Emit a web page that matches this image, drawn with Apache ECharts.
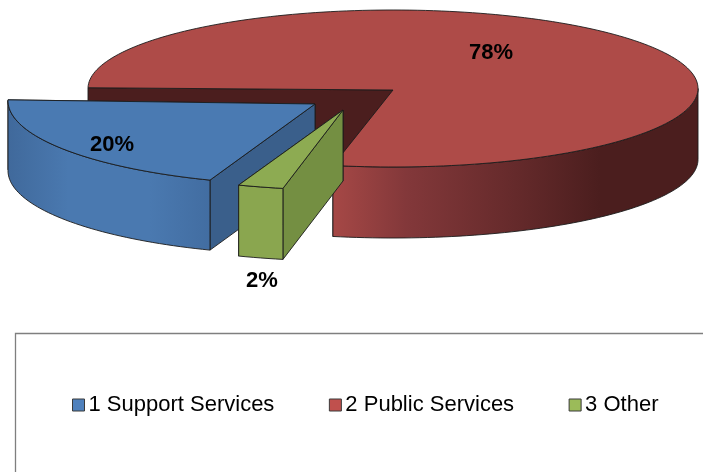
<!DOCTYPE html>
<html><head><meta charset="utf-8">
<script src="https://cdn.jsdelivr.net/npm/echarts@6/dist/echarts.min.js"></script>
<style>html,body{margin:0;padding:0;background:#fff}#c{width:703px;height:472px}</style>
</head><body><div id="c"></div>
<script>
// Data
const categories = ['1 Support Services', '2 Public Services', '3 Other'];
const shares = [19.6, 78.0, 2.4];
const firstSliceAngle = 200;

// Styling and exploded-pie layout (not data)
const FONT = '"Liberation Sans", Arial, sans-serif';
const legendColors = ['#4f81bd', '#c0504d', '#9bbb59'];
const looks = [
  {cx:315, cy:100.7, rx:307, ry:84.5, depth:70, apexDy:3.3, z:3, top:'#4a7ab2', wall:'#3a5f8b',
   side:[[0,'#40699b'],[0.3,'#4a79b0'],[0.7,'#4a79b0'],[1,'#426da1']], label:[112,144.5]},
  {cx:393, cy:88.5, rx:305, ry:78.5, depth:71, apexDy:1.5, z:2, top:'#ae4b48', wall:'#4b1e1e',
   side:[[0,'#a64846'],[0.2,'#83383a'],[0.5,'#652a2b'],[0.73,'#4b1e1e'],[1,'#4b1e1e']], label:[491,52.5]},
  {cx:343, cy:108, rx:305, ry:82, depth:71, apexDy:2, z:4, top:'#8dab52', wall:'#748f42',
   side:[[0,'#8aa64f'],[1,'#8aa64f']], label:[262,281]}
];
const EDGE = {stroke:'#1c1c1c', lineWidth:0.9, lineJoin:'round'};

const total = shares.reduce((a, b) => a + b, 0);
const starts = [];
shares.reduce((acc, v, i) => { starts[i] = acc; return acc + v / total * 360; }, firstSliceAngle);

function makeRender(i) {
  return function (params, api) {
    const value = api.value(0), L = looks[i];
    const a0 = starts[i], a1 = a0 + value / total * 360;
    const pt = d => { const r = d * Math.PI / 180;
      return [L.cx + L.rx * Math.sin(r), L.cy - L.ry * Math.cos(r)]; };
    const apex = [L.cx, L.cy + L.apexDy];
    const arc = (s, e) => { const out = [], n = Math.max(2, Math.ceil((e - s) / 1.5));
      for (let k = 0; k <= n; k++) out.push(pt(s + (e - s) * k / n)); return out; };
    const down = p => [p[0], p[1] + L.depth];
    const kids = [];
    const poly = (points, fill, edge) => kids.push({type:'polygon', shape:{points},
      style:Object.assign({fill}, edge === false ? {} : EDGE)});
    // cut walls
    [a1, a0].forEach(a => { const p = pt(a);
      poly([apex, p, down(p), down(apex)], L.wall); });
    // outer rim: the part of the arc facing the viewer
    const k = Math.floor((a0 - 90) / 360);
    let best = null;
    for (let t = k - 1; t <= k + 1; t++) {
      const s = Math.max(a0, 90 + 360 * t), e = Math.min(a1, 270 + 360 * t);
      if (e > s && (!best || e - s > best[1] - best[0])) best = [s, e];
    }
    if (best) {
      const top = arc(best[0], best[1]);
      poly(top.concat(top.slice().reverse().map(down)),
        new echarts.graphic.LinearGradient(0, 0, 1, 0,
          L.side.map(s => ({offset:s[0], color:s[1]}))));
    }
    // top face
    poly([apex].concat(arc(a0, a1)), L.top);
    kids.push({type:'text', z2:10, style:{x:L.label[0], y:L.label[1],
      text:Math.round(value / total * 100) + '%', fill:'#000',
      font:'bold 22px ' + FONT, textAlign:'center', textVerticalAlign:'middle'}});
    return {type:'group', children:kids};
  };
}

const chart = echarts.init(document.getElementById('c'), null, {renderer:'canvas'});
chart.setOption({
  animation:false,
  backgroundColor:'#fff',
  graphic:[{type:'rect', z:0, silent:true,
    shape:{x:15.5, y:333.5, width:800, height:300},
    style:{fill:'#fff', stroke:'#7f7f7f', lineWidth:1.3}}],
  legend:{
    data:categories, orient:'horizontal', left:72, top:394,
    itemWidth:12, itemHeight:12, itemGap:54.5, padding:0, selectedMode:false, z:5,
    icon:'rect',
    itemStyle:{borderColor:'#3a3a3a', borderWidth:1},
    textStyle:{fontFamily:FONT, fontSize:22, color:'#000', padding:[1,0,0,-1]}
  },
  series:categories.map((name, i) => ({
    type:'custom', name, coordinateSystem:'none', z:looks[i].z,
    itemStyle:{color:legendColors[i]},
    data:[[shares[i]]], renderItem:makeRender(i), silent:true
  }))
});
</script></body></html>
